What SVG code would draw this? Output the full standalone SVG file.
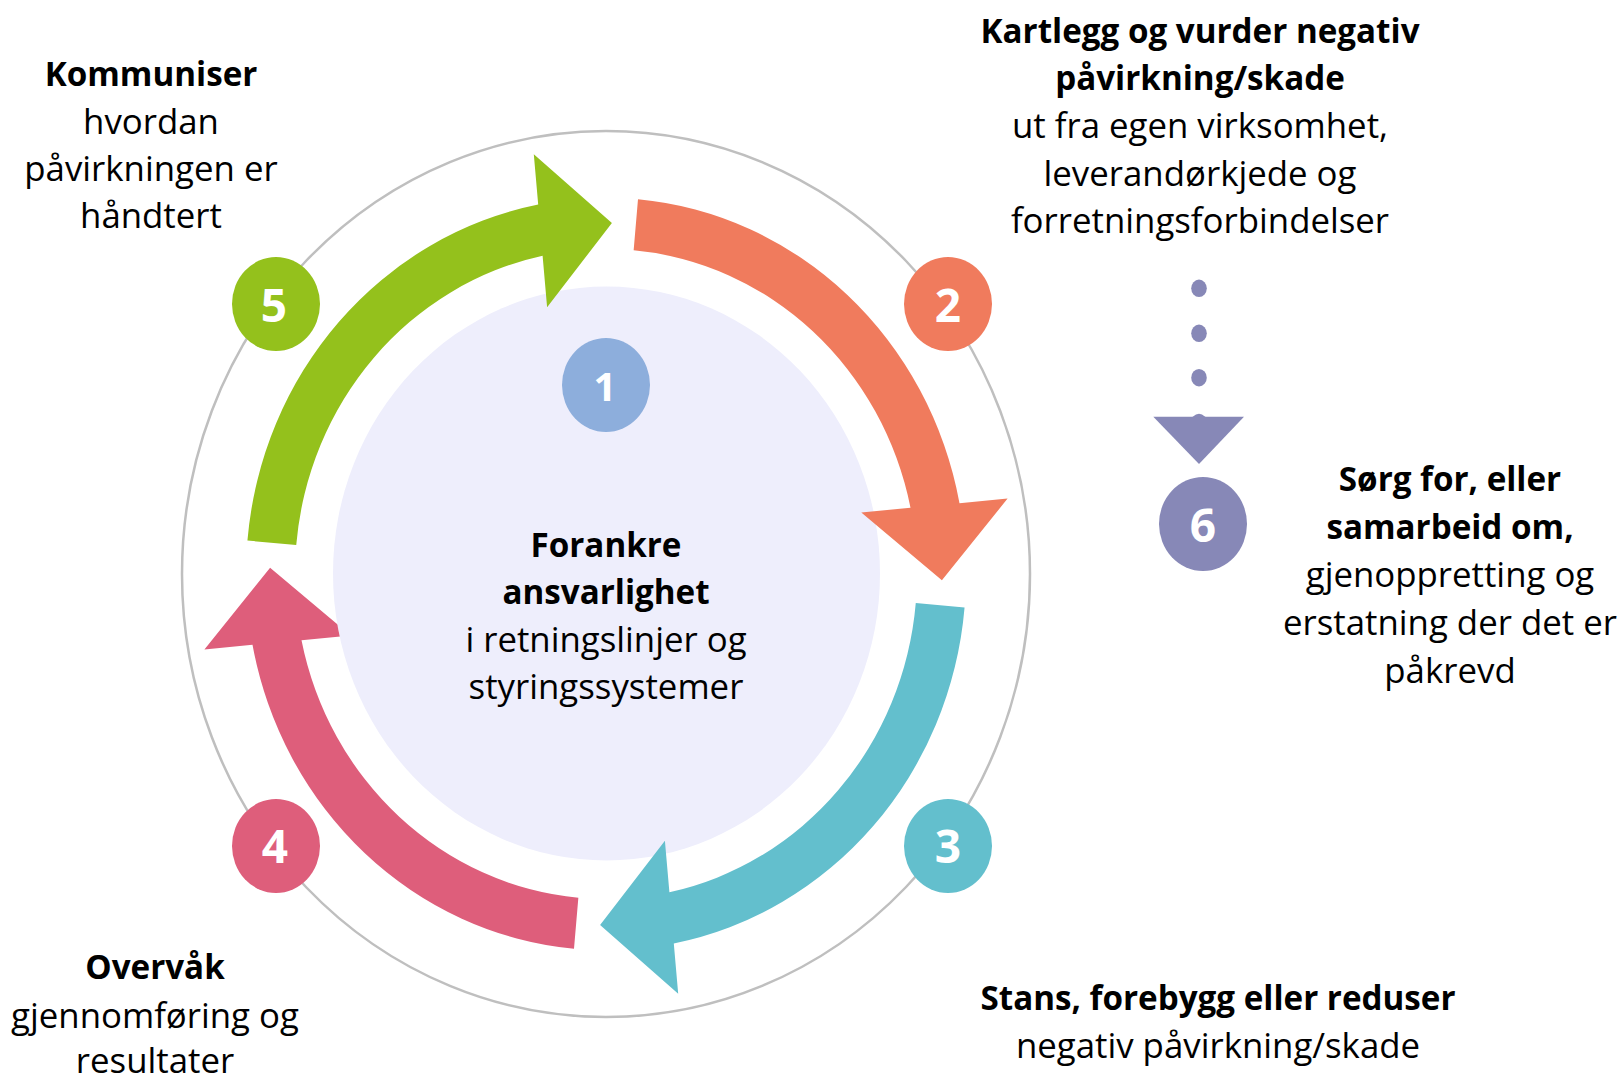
<svg xmlns="http://www.w3.org/2000/svg" width="1621" height="1078" viewBox="0 0 1621 1078">
<style>
  text { font-family: "Open Sans", "Noto Sans", "Liberation Sans", sans-serif; font-size: 34.8px; fill: #000; text-anchor: middle; }
  .b { font-weight: bold; font-size: 33.2px; }
  .num { font-weight: bold; font-size: 46px; fill: #fff; }
  .num1 { font-weight: bold; font-size: 40px; fill: #fff; }
  .dot { fill: #8788B7; }
</style>
<defs>
  <path id="arrow" d="M -358.57,-32.00 A 360 360 0 0 1 -67.8,-353.5 L -72.2,-401.6 L 5.9,-335.9 L -58.9,-255.3 L -63.4,-304.5 A 311 311 0 0 0 -309.77,-27.65 Z"/>
  <mask id="cut" maskUnits="userSpaceOnUse" x="0" y="0" width="1621" height="1078">
    <rect x="0" y="0" width="1621" height="1078" fill="#fff"/>
    <ellipse cx="606.5" cy="573.5" rx="273.5" ry="287" fill="#000"/>
  </mask>
</defs>
<rect x="0" y="0" width="1621" height="1078" fill="#fff"/>
<ellipse id="ring" cx="606" cy="574" rx="424" ry="443" fill="none" stroke="#BFBFBF" stroke-width="2.5"/>

<g id="node-1">
  <ellipse cx="606.5" cy="573.5" rx="273.5" ry="287" fill="#EEEEFC"/>
  <ellipse cx="606" cy="385" rx="44" ry="47" fill="#8DAEDC"/>
  <text class="num1" x="605" y="401">1</text>
  <text class="b" x="606" y="557">Forankre</text>
  <text class="b" x="606" y="604">ansvarlighet</text>
  <text x="606" y="652">i retningslinjer og</text>
  <text x="606" y="699">styringssystemer</text>
</g>

<g id="connectors">
  <g mask="url(#cut)">
    <use href="#arrow" transform="translate(606 574) scale(1 1.045) rotate(270)" fill="#DE5E7B"/>
  </g>
  <use href="#arrow" transform="translate(606 574) scale(1 1.045)" fill="#94C11C"/>
  <use href="#arrow" transform="translate(606 574) scale(1 1.045) rotate(90)" fill="#F07B5D"/>
  <use href="#arrow" transform="translate(606 574) scale(1 1.045) rotate(180)" fill="#63BFCD"/>
  <g id="dotted-arrow">
    <ellipse class="dot" cx="1199" cy="288.3" rx="7.8" ry="8.7"/>
    <ellipse class="dot" cx="1199" cy="333.3" rx="7.8" ry="8.7"/>
    <ellipse class="dot" cx="1199" cy="377.7" rx="7.8" ry="8.7"/>
    <ellipse class="dot" cx="1199" cy="422.5" rx="7.8" ry="8.7"/>
    <polygon class="dot" points="1153.3,416.7 1244,416.7 1199,464"/>
  </g>
</g>

<g id="node-2">
  <ellipse cx="948" cy="304" rx="44" ry="47" fill="#F07B5D"/>
  <text class="num" x="948" y="322">2</text>
  <text class="b" x="1200" y="43">Kartlegg og vurder negativ</text>
  <text class="b" x="1200" y="90">påvirkning/skade</text>
  <text x="1200" y="138">ut fra egen virksomhet,</text>
  <text x="1200" y="186">leverandørkjede og</text>
  <text x="1200" y="233">forretningsforbindelser</text>
</g>

<g id="node-3">
  <ellipse cx="948" cy="846" rx="44" ry="47" fill="#63BFCD"/>
  <text class="num" x="948" y="863">3</text>
  <text class="b" x="1218" y="1010">Stans, forebygg eller reduser</text>
  <text x="1218" y="1058">negativ påvirkning/skade</text>
</g>

<g id="node-4">
  <ellipse cx="276" cy="846" rx="44" ry="47" fill="#DE5E7B"/>
  <text class="num" x="275" y="863">4</text>
  <text class="b" x="155" y="979">Overvåk</text>
  <text x="155" y="1028">gjennomføring og</text>
  <text x="155" y="1073">resultater</text>
</g>

<g id="node-5">
  <ellipse cx="276" cy="304" rx="44" ry="47" fill="#94C11C"/>
  <text class="num" x="274" y="322">5</text>
  <text class="b" x="151" y="86">Kommuniser</text>
  <text x="151" y="134">hvordan</text>
  <text x="151" y="181">påvirkningen er</text>
  <text x="151" y="228">håndtert</text>
</g>

<g id="node-6">
  <ellipse cx="1203" cy="524" rx="44" ry="47" fill="#8788B7"/>
  <text class="num" x="1203" y="542">6</text>
  <text class="b" x="1450" y="491">Sørg for, eller</text>
  <text class="b" x="1450" y="539">samarbeid om,</text>
  <text x="1450" y="587">gjenoppretting og</text>
  <text x="1450" y="635">erstatning der det er</text>
  <text x="1450" y="683">påkrevd</text>
</g>
</svg>
